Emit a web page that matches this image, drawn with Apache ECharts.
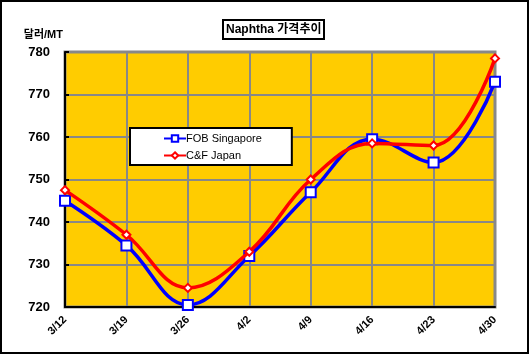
<!DOCTYPE html>
<html>
<head>
<meta charset="utf-8">
<script src="https://cdn.jsdelivr.net/npm/echarts@6/dist/echarts.min.js"></script>
<style>
  html, body { margin: 0; padding: 0; background: #fff; }
  #chart { width: 529px; height: 354px; box-sizing: border-box; border: 2px solid #000; }
</style>
</head>
<body>
<div id="chart"></div>
<script>
// 날짜별 가격 (달러/MT)
const dates = ['3/12', '3/19', '3/26', '4/2', '4/9', '4/16', '4/23', '4/30'];
const fobSingapore = [745, 734.5, 720.5, 732, 747, 759.5, 754, 773];
const cfJapan = [747.5, 737, 724.5, 733, 750, 758.5, 758, 778.5];
const yTicks = { min: 720, max: 780, step: 10 };

const font = 'Arial, "Liberation Sans", "Noto Sans CJK KR", sans-serif';

let myChart = echarts.init(document.getElementById('chart'));

let option = {
  animation: false,
  textStyle: { fontFamily: font },
  title: {
    text: 'Naphtha 가격추이',
    left: 221,
    top: 18,
    backgroundColor: '#fff',
    borderColor: '#000',
    borderWidth: 2,
    padding: [4, 3, 3, 3],
    textStyle: { fontFamily: font, fontSize: 12, fontWeight: 'bold', color: '#000' }
  },
  legend: {
    orient: 'vertical',
    left: 128,
    top: 126,
    backgroundColor: '#fff',
    borderColor: '#000',
    borderWidth: 2,
    padding: [5, 30, 4, 33],
    itemGap: 6,
    itemWidth: 22,
    itemHeight: 8,
    textStyle: { fontFamily: font, fontSize: 11, color: '#000', padding: [0, 0, 0, -5] },
    data: ['FOB Singapore', 'C&F Japan']
  },
  grid: {
    left: 63,
    right: 32,
    top: 50,
    bottom: 45,
    show: true,
    backgroundColor: '#FFCC00',
    borderColor: '#888',
    borderWidth: 3
  },
  xAxis: {
    type: 'category',
    data: dates,
    boundaryGap: false,
    axisLine: { lineStyle: { color: '#000', width: 2 } },
    axisTick: { show: false },
    splitLine: { show: true, lineStyle: { color: '#888', width: 2 } },
    axisLabel: {
      rotate: 45,
      margin: 11,
      color: '#000',
      fontFamily: font,
      fontSize: 11,
      fontWeight: 'bold'
    }
  },
  yAxis: {
    type: 'value',
    name: '달러/MT',
    nameGap: 12,
    nameTextStyle: { align: 'right', color: '#000', fontFamily: font, fontSize: 11, fontWeight: 'bold', padding: [0, 2, 0, 0] },
    min: yTicks.min,
    max: yTicks.max,
    interval: yTicks.step,
    axisLine: { show: true, lineStyle: { color: '#000', width: 2 } },
    axisTick: { show: true, inside: true, length: 4, lineStyle: { color: '#000', width: 2 } },
    splitLine: { show: true, lineStyle: { color: '#888', width: 2 } },
    axisLabel: {
      margin: 15,
      color: '#000',
      fontFamily: font,
      fontSize: 13,
      fontWeight: 'bold'
    }
  },
  series: [
    {
      name: 'FOB Singapore',
      type: 'line',
      data: fobSingapore,
      smooth: 0.4,
      symbol: 'rect',
      symbolSize: 10,
      z: 3,
      lineStyle: { color: '#0000FF', width: 3.5 },
      itemStyle: { color: '#fff', borderColor: '#0000FF', borderWidth: 2 }
    },
    {
      name: 'C&F Japan',
      type: 'line',
      data: cfJapan,
      smooth: 0.4,
      symbol: 'diamond',
      symbolSize: 8,
      z: 4,
      lineStyle: { color: '#FF0000', width: 3.5 },
      itemStyle: { color: '#fff', borderColor: '#FF0000', borderWidth: 2 }
    }
  ]
};

myChart.setOption(option);
</script>
</body>
</html>
